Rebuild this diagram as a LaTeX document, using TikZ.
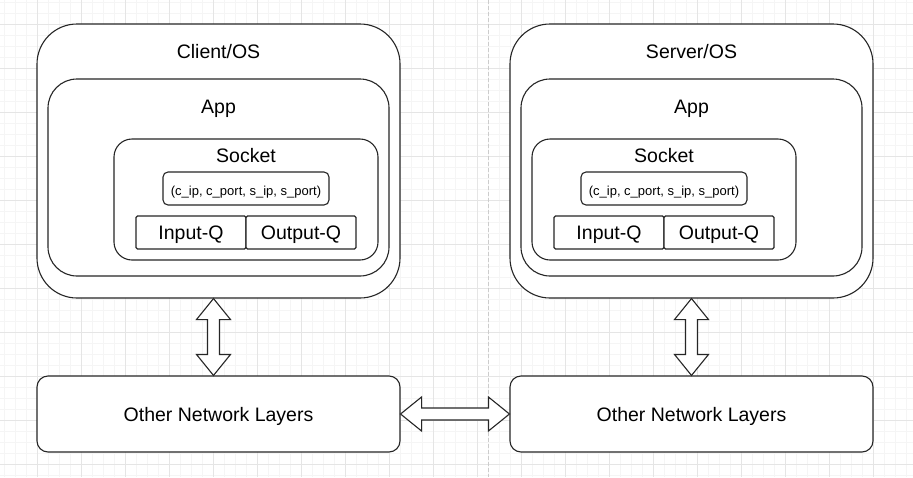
\documentclass[tikz,border=0pt]{standalone}
\usepackage{fontspec}
\setmainfont{Liberation Sans}
\usetikzlibrary{calc}
\tikzset{
  box/.style={draw=black!85, line width=1.1pt, fill=white, inner sep=0pt},
  big/.style={font=\fontsize{19.5}{23}\selectfont, inner sep=0pt, anchor=base},
  small/.style={font=\fontsize{13}{16}\selectfont, inner sep=0pt, anchor=base},
  minorgrid/.style={draw=black!4, line width=0.8pt},
  majorgrid/.style={draw=black!10, line width=0.8pt},
  fatarrow/.style={draw=black!85, line width=1.1pt, fill=white, line join=miter},
}
\begin{document}
\begin{tikzpicture}[x=1pt,y=-1pt]
\useasboundingbox (0,0) rectangle (913,477);
\fill[white] (0,0) rectangle (913,477);
% grid
\foreach \x in {4,15,...,912} \draw[minorgrid] (\x,0) -- (\x,477);
\foreach \y in {2,13,...,476} \draw[minorgrid] (0,\y) -- (913,\y);
\foreach \x in {37,81,...,912} \draw[majorgrid] (\x,0) -- (\x,477);
\foreach \y in {24,68,...,476} \draw[majorgrid] (0,\y) -- (913,\y);
% divider
\draw[black!20, line width=1pt, dash pattern=on 3.5pt off 2.5pt] (488,0) -- (488,477);

% ---------- Client ----------
\node[box, rounded corners=40pt, minimum width=363pt, minimum height=274pt] (cos) at (218.5,161) {};
\node[big] (cost) at (218.5,58) {Client/OS};
\node[box, rounded corners=29pt, minimum width=341pt, minimum height=197pt] (capp) at (218.5,177.5) {};
\node[big] (cappt) at (218.5,113) {App};
\node[box, rounded corners=18pt, minimum width=264pt, minimum height=121pt] (csock) at (246,199.5) {};
\node[big] (csockt) at (246,162) {Socket};
\node[box, rounded corners=5pt, minimum width=166pt, minimum height=33pt] (ctup) at (246,188.5) {};
\node[small] (ctupt) at (246,195) {(c\_ip, c\_port, s\_ip, s\_port)};
\node[box, rounded corners=1.5pt, minimum width=110pt, minimum height=33pt] (cin) at (191,232.5) {};
\node[big] (cint) at (191,239) {Input-Q};
\node[box, rounded corners=1.5pt, minimum width=110pt, minimum height=33pt] (cout) at (301,232.5) {};
\node[big] (coutt) at (301,239) {Output-Q};
\node[box, rounded corners=11pt, minimum width=363pt, minimum height=76pt] (cnet) at (218.5,414) {};
\node[big] (cnett) at (218.5,421.5) {Other Network Layers};

% ---------- Server ----------
\node[box, rounded corners=40pt, minimum width=363pt, minimum height=274pt] (sos) at (691.5,161) {};
\node[big] (sost) at (691.5,58) {Server/OS};
\node[box, rounded corners=29pt, minimum width=341pt, minimum height=197pt] (sapp) at (691.5,177.5) {};
\node[big] (sappt) at (691.5,113) {App};
\node[box, rounded corners=18pt, minimum width=264pt, minimum height=121pt] (ssock) at (664,199.5) {};
\node[big] (ssockt) at (664,162) {Socket};
\node[box, rounded corners=5pt, minimum width=166pt, minimum height=33pt] (stup) at (664,188.5) {};
\node[small] (stupt) at (664,195) {(c\_ip, c\_port, s\_ip, s\_port)};
\node[box, rounded corners=1.5pt, minimum width=110pt, minimum height=33pt] (sin) at (609,232.5) {};
\node[big] (sint) at (609,239) {Input-Q};
\node[box, rounded corners=1.5pt, minimum width=110pt, minimum height=33pt] (sout) at (719,232.5) {};
\node[big] (soutt) at (719,239) {Output-Q};
\node[box, rounded corners=11pt, minimum width=363pt, minimum height=76pt] (snet) at (691.5,414) {};
\node[big] (snett) at (691.5,421.5) {Other Network Layers};

% ---------- fat double arrows ----------
\foreach \a/\b/\dx in {cos/cnet/-5, sos/snet/0} {
  \coordinate (p) at ($(\a.south)+(\dx,0)$);
  \coordinate (q) at ($(\b.north)+(\dx,0)$);
  \draw[fatarrow] (p) -- ++(17,21) -- ++(-11,0) -- ($(q)+(6,-21)$) -- ++(11,0) -- (q)
    -- ++(-17,-21) -- ++(11,0) -- ($(p)+(-6,21)$) -- ++(-11,0) -- cycle;
}
\draw[fatarrow] (cnet.east) -- ++(21,-17) -- ++(0,11) -- ($(snet.west)+(-21,-6)$) -- ++(0,-11) -- (snet.west)
  -- ++(-21,17) -- ++(0,-11) -- ($(cnet.east)+(21,6)$) -- ++(0,11) -- cycle;
\end{tikzpicture}
\end{document}
